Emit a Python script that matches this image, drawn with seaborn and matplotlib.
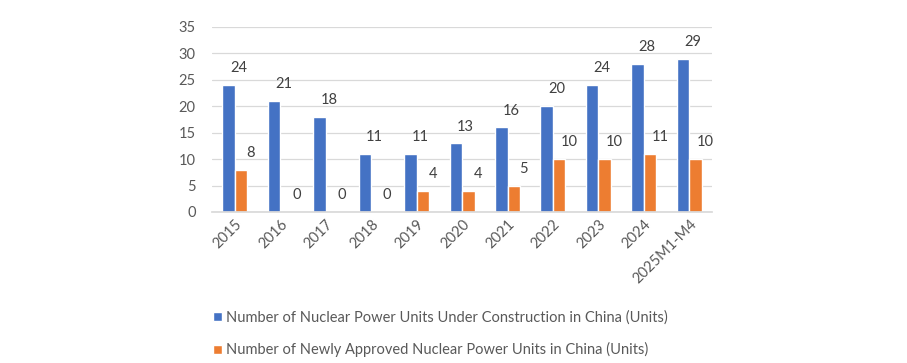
import pandas as pd
import numpy as np
import seaborn as sns
import matplotlib.pyplot as plt

years = ["2015", "2016", "2017", "2018", "2019", "2020", "2021",
         "2022", "2023", "2024", "2025M1-M4"]
under_construction = [24, 21, 18, 11, 11, 13, 16, 20, 24, 28, 29]
newly_approved = [8, 0, 0, 0, 4, 4, 5, 10, 10, 11, 10]

s1 = "Number of Nuclear Power Units Under Construction in China (Units)"
s2 = "Number of Newly Approved Nuclear Power Units in China (Units)"

df = pd.DataFrame({"Year": years * 2,
                   "Units": under_construction + newly_approved,
                   "Series": [s1] * len(years) + [s2] * len(years)})

sns.set_theme(style="white")
plt.rcParams["font.family"] = ["Lato", "DejaVu Sans"]

fig = plt.figure(figsize=(9.07, 3.63), dpi=100)
ax = fig.add_axes([0.234, 0.416, 0.551, 0.51])

sns.barplot(data=df, x="Year", y="Units", hue="Series", ax=ax,
            palette=["#4472C4", "#ED7D31"], width=0.55, gap=0,
            saturation=1, legend=True)

# labels sit a little to the right of each bar, like the Excel original
for c in ax.containers:
    for t in ax.bar_label(c, padding=7, fontsize=10.5, color="#404040"):
        t.xyann = (7, 7)

ax.set_ylim(0, 35)
ax.set_yticks(np.arange(0, 36, 5))
ax.yaxis.grid(True, color="#D9D9D9", linewidth=0.9)
ax.set_axisbelow(True)
for side in ["top", "right", "left"]:
    ax.spines[side].set_visible(False)
ax.spines["bottom"].set_color("#D9D9D9")
ax.set_xlabel("")
ax.set_ylabel("")
ax.tick_params(axis="y", labelsize=10.5, colors="#595959", length=0, pad=12)
ax.tick_params(axis="x", labelsize=10.5, colors="#595959", length=0)
plt.setp(ax.get_xticklabels(), rotation=45, ha="right", rotation_mode="anchor")

handles, labels = ax.get_legend_handles_labels()
ax.get_legend().remove()
fig.legend(handles, labels, loc="upper left", bbox_to_anchor=(0.235, 0.145),
           frameon=False, fontsize=10.5, handlelength=0.6, handleheight=0.6,
           handletextpad=0.3, labelspacing=1.2, labelcolor="#595959",
           borderaxespad=0, borderpad=0)

fig.savefig("out.png", dpi=100)
